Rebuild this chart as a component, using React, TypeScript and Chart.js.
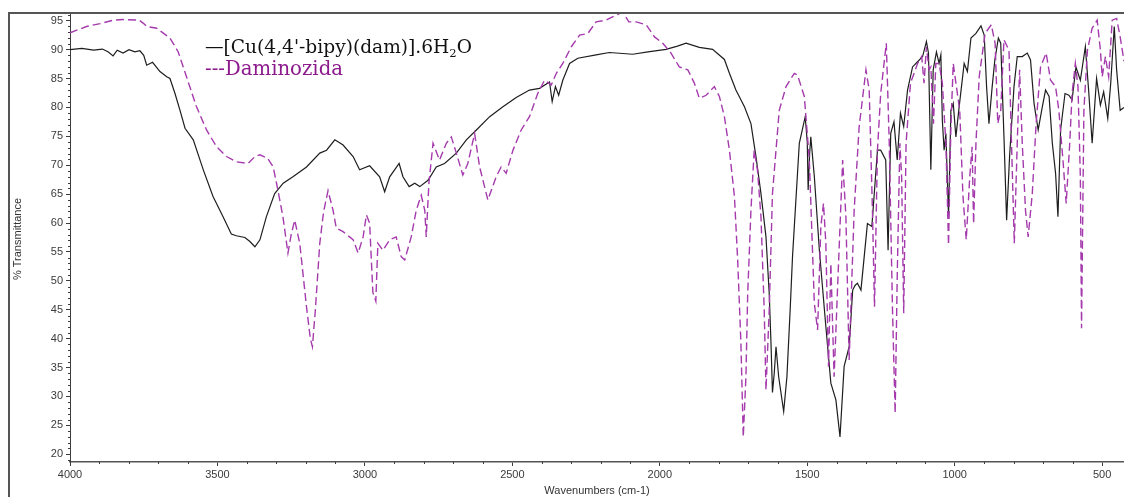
import React, { useEffect, useRef } from 'react';
import { Chart, registerables } from 'chart.js';

Chart.register(...registerables);

// ---- Data (wavenumber cm-1 / % transmittance) ----
const cuWave = [
  4000, 3960, 3920, 3890, 3870, 3854, 3840, 3820, 3800, 3780, 3763, 3750, 3740, 3720, 3695, 3672, 3661, 3644, 3627, 3610,
  3582, 3548, 3515, 3481, 3453, 3436, 3407, 3390, 3373, 3356, 3334, 3306, 3277, 3244, 3198, 3153, 3130, 3102, 3074, 3040,
  3018, 2984, 2950, 2933, 2916, 2884, 2871, 2850, 2831, 2814, 2786, 2758, 2730, 2690, 2656, 2622, 2577, 2532, 2487, 2442,
  2408, 2374, 2365, 2354, 2343, 2329, 2306, 2278, 2216, 2171, 2092, 2040, 1979, 1940, 1911, 1866, 1821, 1781, 1764, 1742,
  1713, 1691, 1674, 1657, 1640, 1629, 1623, 1618, 1612, 1606, 1597, 1580, 1569, 1558, 1550, 1527, 1507, 1500, 1497, 1492,
  1488, 1476, 1459, 1437, 1420, 1403, 1389, 1375, 1358, 1346, 1338, 1330, 1322, 1318, 1296, 1281, 1262, 1251, 1234, 1226,
  1217, 1206, 1195, 1184, 1173, 1160, 1143, 1126, 1109, 1096, 1089, 1081, 1073, 1062, 1053, 1047, 1042, 1036, 1030, 1021,
  1013, 1005, 996, 985, 968, 957, 945, 928, 911, 900, 892, 884, 873, 864, 852, 844, 833, 824, 814, 799,
  788, 771, 754, 743, 731, 726, 717, 703, 692, 680, 669, 658, 650, 641, 626, 613, 602, 589, 574, 557,
  546, 534, 519, 506, 495, 481, 471, 459, 451, 439, 426,
];
const cuT = [
  90.0, 90.2, 89.9, 90.1, 89.6, 88.9, 89.9, 89.4, 90.0, 89.6, 89.8, 89.0, 87.3, 87.8, 86.2, 85.3, 85.0, 82.4, 79.5, 76.4,
  74.4, 69.2, 64.6, 61.1, 58.1, 57.8, 57.5, 56.8, 55.9, 57.1, 61.1, 65.1, 66.9, 68.0, 69.7, 72.1, 72.6, 74.4, 73.5, 71.5,
  69.2, 69.9, 68.0, 65.4, 68.0, 70.3, 68.0, 66.3, 66.9, 66.3, 67.4, 69.7, 70.3, 72.1, 74.4, 76.1, 78.4, 80.1, 81.7, 83.0,
  83.3, 84.4, 81.0, 83.6, 82.1, 84.7, 87.6, 88.5, 89.1, 89.5, 89.2, 89.6, 90.05, 90.6, 91.1, 90.4, 90.05, 88.3, 85.9, 83.0,
  80.1, 77.2, 71.5, 65.1, 57.6, 47.8, 39.2, 30.7, 34.0, 38.6, 33.4, 27.4, 33.4, 45.0, 54.2, 73.8, 78.4, 74.0, 65.7, 72.0,
  74.9, 68.0, 55.3, 42.1, 32.3, 29.4, 23.0, 35.2, 38.6, 48.4, 49.2, 49.6, 48.8, 48.4, 59.9, 59.4, 72.6, 72.6, 70.9, 55.3,
  75.5, 77.5, 70.9, 79.0, 76.7, 83.0, 87.0, 87.9, 88.8, 91.4, 89.4, 69.2, 86.5, 89.6, 87.6, 89.1, 77.8, 72.6, 75.5, 61.1,
  79.5, 80.7, 74.9, 80.1, 87.6, 86.2, 92.0, 92.8, 94.1, 92.5, 83.6, 77.2, 83.6, 88.2, 92.0, 91.1, 74.9, 60.5, 71.5, 83.6,
  88.8, 88.8, 89.4, 88.2, 80.7, 79.0, 76.1, 80.1, 83.0, 81.9, 73.8, 68.6, 61.1, 76.1, 82.4, 82.1, 81.3, 87.0, 84.7, 90.5,
  83.0, 73.8, 85.0, 80.4, 82.7, 78.1, 84.2, 94.0, 86.5, 79.5, 80.0,
];

const damWave = [
  4000, 3944, 3898, 3853, 3820, 3765, 3750, 3740, 3706, 3661, 3633, 3605, 3571, 3537, 3503, 3469, 3436, 3396, 3373, 3356,
  3330, 3311, 3295, 3278, 3261, 3250, 3238, 3221, 3198, 3185, 3178, 3168, 3153, 3140, 3125, 3108, 3097, 3074, 3040, 3023,
  3006, 2995, 2984, 2973, 2963, 2956, 2939, 2916, 2894, 2877, 2865, 2843, 2826, 2809, 2797, 2792, 2783, 2769, 2747, 2724,
  2707, 2690, 2668, 2651, 2628, 2611, 2583, 2555, 2538, 2521, 2498, 2470, 2442, 2414, 2391, 2368, 2351, 2329, 2300, 2272,
  2244, 2216, 2182, 2171, 2126, 2105, 2080, 2046, 2018, 1990, 1962, 1934, 1905, 1883, 1866, 1843, 1815, 1798, 1781, 1764,
  1747, 1736, 1725, 1717, 1708, 1702, 1691, 1680, 1669, 1657, 1646, 1640, 1629, 1618, 1595, 1572, 1544, 1533, 1510, 1493,
  1476, 1465, 1454, 1445, 1437, 1428, 1420, 1409, 1394, 1380, 1369, 1358, 1341, 1324, 1301, 1290, 1279, 1272, 1262, 1251,
  1232, 1222, 1211, 1202, 1195, 1186, 1180, 1173, 1165, 1150, 1126, 1112, 1104, 1096, 1087, 1081, 1072, 1064, 1053, 1042,
  1030, 1021, 1013, 1005, 996, 983, 972, 961, 949, 941, 936, 928, 917, 897, 876, 863, 854, 844, 833, 816,
  809, 798, 788, 780, 771, 760, 751, 737, 724, 709, 690, 675, 658, 647, 633, 622, 610, 602, 591, 582,
  574, 570, 562, 550, 534, 517, 506, 500, 489, 478, 466, 451, 439, 426,
];
const damT = [
  92.9, 94.0, 94.5, 95.1, 95.2, 95.1, 94.5, 94.0, 93.7, 92.0, 89.6, 85.3, 80.1, 76.1, 73.2, 71.5, 70.6, 70.3, 71.5, 71.8,
  71.2, 69.7, 65.7, 61.1, 54.8, 58.0, 60.5, 56.5, 45.5, 40.0, 38.6, 45.0, 56.5, 62.0, 65.6, 62.2, 59.1, 58.5, 57.1, 54.8,
  57.6, 61.4, 60.0, 48.0, 46.5, 56.5, 55.3, 57.1, 57.6, 54.2, 53.6, 57.6, 62.2, 64.8, 62.2, 57.6, 66.9, 73.8, 70.9, 73.8,
  74.9, 72.1, 68.3, 70.3, 75.5, 69.7, 64.0, 68.0, 69.7, 68.6, 72.6, 76.1, 78.4, 82.4, 84.7, 83.9, 85.9, 87.6, 90.5, 92.5,
  92.8, 94.8, 95.1, 95.4, 96.5, 94.8, 94.8, 94.3, 92.2, 91.1, 89.4, 87.0, 86.5, 84.2, 81.6, 82.1, 83.6, 81.9, 78.4, 72.6,
  64.6, 53.6, 39.2, 23.0, 33.4, 47.8, 62.2, 72.6, 69.2, 61.1, 45.0, 31.1, 45.0, 65.1, 79.5, 83.6, 85.9, 85.6, 81.9, 70.9,
  46.1, 41.5, 59.4, 63.4, 56.5, 35.2, 53.0, 33.4, 53.0, 70.9, 61.1, 36.3, 62.2, 76.7, 86.5, 83.0, 62.2, 45.5, 72.6, 82.4,
  91.1, 73.8, 45.0, 27.1, 50.7, 73.8, 68.0, 44.4, 73.8, 84.2, 87.6, 88.8, 84.2, 90.5, 86.5, 87.0, 77.2, 87.6, 87.6, 84.2,
  73.8, 56.2, 76.7, 87.6, 84.2, 79.5, 64.6, 57.1, 68.0, 73.2, 59.9, 73.8, 85.3, 92.8, 94.3, 91.1, 77.2, 79.5, 91.7, 89.9,
  76.7, 56.5, 73.8, 86.5, 73.8, 62.2, 57.6, 65.1, 77.2, 87.0, 89.4, 84.7, 83.6, 79.5, 70.9, 63.4, 73.8, 82.4, 87.6, 83.6,
  68.0, 41.8, 79.5, 89.9, 93.7, 95.1, 89.9, 85.3, 88.8, 85.3, 95.1, 95.4, 92.2, 88.0,
];

const xTickValues = [500, 600, 700, 800, 900, 1000, 1100, 1200, 1300, 1400, 1500, 1600, 1700, 1800, 1900, 2000, 2100, 2200,
  2300, 2400, 2500, 2600, 2700, 2800, 2900, 3000, 3100, 3200, 3300, 3400, 3500, 3600, 3700, 3800, 3900, 4000];
const yTickValues = [20, 25, 30, 35, 40, 45, 50, 55, 60, 65, 70, 75, 80, 85, 90, 95];

const X_MIN = 426;
const X_MAX = 4000;
const Y_MIN = 18.66;
const Y_MAX = 96.16;

const legendCuMain = "—[Cu(4,4'-bipy)(dam)].6H";
const legendCuSub = '2';
const legendCuEnd = 'O';
const legendDam = '---Daminozida';
const yTitle = '% Transmittance';
const xTitle = 'Wavenumbers (cm-1)';

const CU_COLOR = '#1e1e1e';
const DAM_COLOR = '#a43aac';
const DAM_TEXT = '#8c1a8c';
const AXIS_COLOR = '#3c3c3c';

const decorPlugin = {
  id: 'decor',
  afterDraw(chart: any) {
    const ctx = chart.ctx;
    const area = chart.chartArea;
    const xs = chart.scales.x;
    const ys = chart.scales.y;
    ctx.save();
    // frame
    ctx.strokeStyle = '#555';
    ctx.lineWidth = 2;
    ctx.beginPath();
    ctx.moveTo(9, 497);
    ctx.lineTo(9, 13);
    ctx.lineTo(1124, 13);
    ctx.stroke();

    // minor ticks
    ctx.strokeStyle = AXIS_COLOR;
    ctx.lineWidth = 1;
    ctx.beginPath();
    for (let v = 19; v <= 96; v++) {
      if (v % 5 === 0) continue;
      const y = Math.round(ys.getPixelForValue(v)) + 0.5;
      ctx.moveTo(area.left - 2, y);
      ctx.lineTo(area.left, y);
    }
    for (const w of xTickValues) {
      if (w % 500 === 0) continue;
      const x = Math.round(xs.getPixelForValue(w)) + 0.5;
      ctx.moveTo(x, area.bottom);
      ctx.lineTo(x, area.bottom + 2);
    }
    ctx.stroke();

    // axis titles
    ctx.fillStyle = '#333';
    ctx.font = '11px "Liberation Sans", Arial, sans-serif';
    ctx.textAlign = 'center';
    ctx.textBaseline = 'middle';
    ctx.fillText(xTitle, (area.left + area.right) / 2, 491);
    ctx.save();
    ctx.translate(18, (area.top + area.bottom) / 2 + 1);
    ctx.rotate(-Math.PI / 2);
    ctx.fillText(yTitle, 0, 0);
    ctx.restore();

    // legend
    ctx.textAlign = 'left';
    ctx.textBaseline = 'alphabetic';
    const fam = '"DejaVu Serif", "Liberation Serif", serif';
    const base = 20;
    ctx.font = `${base}px ${fam}`;
    const wMain = ctx.measureText(legendCuMain).width;
    ctx.font = `${base * 0.62}px ${fam}`;
    const wSub = ctx.measureText(legendCuSub).width;
    ctx.font = `${base}px ${fam}`;
    const wEnd = ctx.measureText(legendCuEnd).width;
    const total = wMain + wSub + wEnd;
    const size = base * 267 / total;
    let x = 205;
    const y1 = 53;
    ctx.fillStyle = '#111';
    ctx.font = `${size}px ${fam}`;
    ctx.fillText(legendCuMain, x, y1);
    x += ctx.measureText(legendCuMain).width;
    ctx.font = `${size * 0.62}px ${fam}`;
    ctx.fillText(legendCuSub, x, y1 + size * 0.22);
    x += ctx.measureText(legendCuSub).width;
    ctx.font = `${size}px ${fam}`;
    ctx.fillText(legendCuEnd, x, y1);

    ctx.fillStyle = DAM_TEXT;
    ctx.font = `${size}px ${fam}`;
    const wDam = ctx.measureText(legendDam).width;
    const s2 = size * 138 / wDam;
    ctx.font = `${Math.min(s2, size * 1.08)}px ${fam}`;
    ctx.fillText(legendDam, 205, 75);
    ctx.restore();
  },
};

export default function App() {
  const canvasRef = useRef<HTMLCanvasElement | null>(null);

  useEffect(() => {
    if (!canvasRef.current) return;
    const cuData = cuWave.map((w, i) => ({ x: w, y: cuT[i] }));
    const damData = damWave.map((w, i) => ({ x: w, y: damT[i] }));
    const chart = new Chart(canvasRef.current, {
      type: 'line',
      data: {
        datasets: [
          {
            label: 'Daminozida',
            data: damData,
            borderColor: DAM_COLOR,
            borderWidth: 1.4,
            borderDash: [8, 4],
            pointRadius: 0,
            tension: 0,
            fill: false,
          },
          {
            label: '[Cu(4,4\'-bipy)(dam)].6H2O',
            data: cuData,
            borderColor: CU_COLOR,
            borderWidth: 1.2,
            pointRadius: 0,
            tension: 0,
            fill: false,
          },
        ],
      },
      plugins: [decorPlugin],
      options: {
        responsive: false,
        animation: false,
        events: [],
        layout: { padding: { top: 14, left: 0, right: 0, bottom: 0 } },
        plugins: {
          legend: { display: false },
          tooltip: { enabled: false },
          title: { display: false },
        },
        scales: {
          x: {
            type: 'linear',
            reverse: true,
            min: X_MIN,
            max: X_MAX,
            afterBuildTicks: (s: any) => {
              s.ticks = xTickValues.map((v) => ({ value: v }));
            },
            afterFit: (s: any) => {
              s.height = 35;
            },
            ticks: {
              autoSkip: false,
              maxRotation: 0,
              padding: 2,
              color: '#3a3a3a',
              font: { family: '"Liberation Sans", Arial, sans-serif', size: 11 },
              callback: (v: any) => (Number(v) % 500 === 0 ? String(v) : ''),
            },
            grid: {
              drawOnChartArea: false,
              drawTicks: true,
              tickLength: 4,
              tickColor: (c: any) => (c.tick && c.tick.value % 500 === 0 ? AXIS_COLOR : 'rgba(0,0,0,0)'),
            },
            border: { color: '#555', width: 1.5 },
          },
          y: {
            type: 'linear',
            min: Y_MIN,
            max: Y_MAX,
            afterBuildTicks: (s: any) => {
              s.ticks = yTickValues.map((v) => ({ value: v }));
            },
            afterFit: (s: any) => {
              s.width = 70;
            },
            ticks: {
              autoSkip: false,
              padding: 3,
              color: '#3a3a3a',
              font: { family: '"Liberation Sans", Arial, sans-serif', size: 11 },
              callback: (v: any) => String(v),
            },
            grid: {
              drawOnChartArea: false,
              drawTicks: true,
              tickLength: 4,
              tickColor: AXIS_COLOR,
            },
            border: { color: AXIS_COLOR, width: 1, dash: [1, 2] },
          },
        },
      },
    });
    return () => chart.destroy();
  }, []);

  return (
    <div style={{ position: 'absolute', left: 0, top: 0, width: 1124, height: 497, background: '#fff' }}>
      <canvas ref={canvasRef} width={1124} height={497} style={{ display: 'block' }} />
    </div>
  );
}
